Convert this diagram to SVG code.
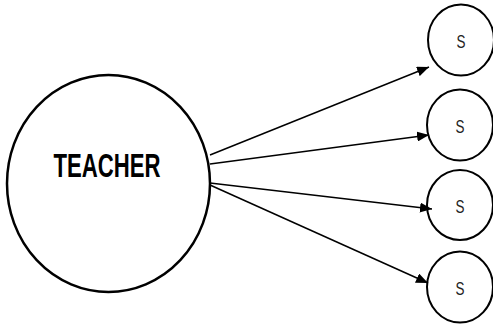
<svg xmlns="http://www.w3.org/2000/svg" width="493" height="326" viewBox="0 0 493 326">
<defs>
<style>
.big{fill:#fff;stroke:#000;stroke-width:2.5}
.small{fill:#fff;stroke:#000;stroke-width:2}
.conn{stroke:#000;stroke-width:1.5;fill:none;marker-end:url(#ah)}
.t1{font-family:"Liberation Sans Narrow","Liberation Sans",Arial,sans-serif;font-weight:bold;font-size:33px;fill:#000}
.t2{font-family:"Liberation Sans Narrow","Liberation Sans",Arial,sans-serif;font-size:18px;fill:#222}
</style>
<marker id="ah" viewBox="0 0 12 10" refX="12" refY="5" markerWidth="12" markerHeight="10" markerUnits="userSpaceOnUse" orient="auto">
<path d="M0,0 L12,5 L0,10 z" fill="#000"/>
</marker>
</defs>
<rect width="493" height="326" fill="#fff"/>
<g id="teacher">
<ellipse class="big" cx="108.5" cy="183.5" rx="101.5" ry="108.5"/>
<text class="t1" x="107" y="177" text-anchor="middle" textLength="107" lengthAdjust="spacingAndGlyphs">TEACHER</text>
</g>
<g id="s1">
<ellipse class="small" cx="461" cy="40" rx="33" ry="35.5"/>
<text class="t2" x="461" y="48" text-anchor="middle" textLength="9" lengthAdjust="spacingAndGlyphs">S</text>
</g>
<g id="s2">
<ellipse class="small" cx="460" cy="125" rx="33" ry="35.5"/>
<text class="t2" x="460" y="133" text-anchor="middle" textLength="9" lengthAdjust="spacingAndGlyphs">S</text>
</g>
<g id="s3">
<ellipse class="small" cx="460" cy="205" rx="33" ry="35"/>
<text class="t2" x="460" y="213" text-anchor="middle" textLength="9" lengthAdjust="spacingAndGlyphs">S</text>
</g>
<g id="s4">
<ellipse class="small" cx="460" cy="287" rx="33" ry="35.5"/>
<text class="t2" x="460" y="295" text-anchor="middle" textLength="9" lengthAdjust="spacingAndGlyphs">S</text>
</g>
<g id="connectors">
<line class="conn" x1="210" y1="155" x2="429" y2="67"/>
<line class="conn" x1="210" y1="164" x2="429" y2="135"/>
<line class="conn" x1="210" y1="183" x2="432" y2="209"/>
<line class="conn" x1="210" y1="185" x2="428" y2="283"/>
</g>
</svg>
